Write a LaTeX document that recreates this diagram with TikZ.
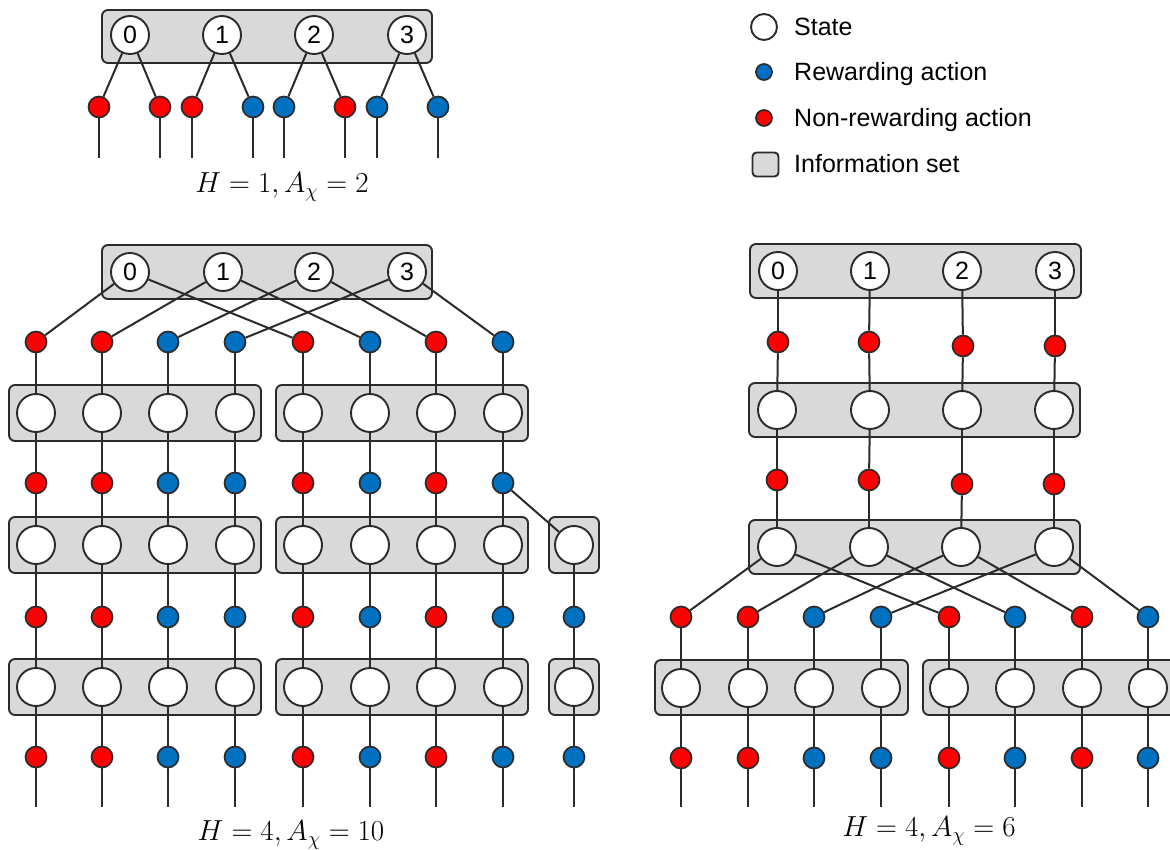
\RequirePackage{fix-cm}
\documentclass[tikz,border=0pt]{standalone}
\usepackage{fontspec}
\newfontfamily\lsans{Liberation Sans}
\definecolor{lc}{HTML}{2B2B2B}
\definecolor{rr}{HTML}{FF0000}
\definecolor{bb}{HTML}{0070C0}
\definecolor{gf}{HTML}{D9D9D9}
\begin{document}
\begin{tikzpicture}[x=1pt,y=-1pt,
  stnode/.style={circle,draw=lc,fill=white,line width=1.9pt,minimum size=38pt,inner sep=0pt,font=\lsans\fontsize{25}{25}\selectfont},
  dotn/.style={circle,draw=lc,line width=1.7pt,minimum size=21pt,inner sep=0pt},
  ibox/.style={draw=lc,fill=gf,line width=1.9pt,rounded corners=6pt,inner sep=0pt},
  conn/.style={draw=lc,line width=2pt},
  lbl/.style={inner sep=0pt,font=\fontsize{29}{32}\selectfont},
  legtxt/.style={anchor=base west,inner sep=0pt,font=\lsans\fontsize{25}{28}\selectfont}]
\useasboundingbox (0,0) rectangle (1170,850);
\clip (0,0) rectangle (1170,850);

% ---------------- top-left: H=1 ----------------
\node[ibox,minimum width=330pt,minimum height=53pt] (Tbox) at (267,36.5) {};
\foreach \n/\x in {0/130,1/222,2/314,3/407} \node[stnode] (T\n) at (\x,35) {\n};
\foreach \n/\x/\c in {1/99/rr,2/160/rr,3/192/rr,4/253/bb,5/284/bb,6/345/rr,7/377/bb,8/438/bb} {
  \node[dotn,fill=\c] (Ta\n) at (\x,107) {};
  \coordinate (Te\n) at (\x,158);
}
\foreach \n/\a/\b in {0/1/2,1/3/4,2/5/6,3/7/8} {
  \draw[conn] (T\n) -- (Ta\a);
  \draw[conn] (T\n) -- (Ta\b);
}
\foreach \n in {1,...,8} \draw[conn] (Ta\n) -- (Te\n);
\node[lbl] (Tlbl) at (282,187) {$H=1, A_\chi=2$};

% ---------------- bottom-left: H=4, A=10 ----------------
\node[ibox,minimum width=330pt,minimum height=54pt] (LboxA) at (267,272) {};
\foreach \y/\r in {413/2,545/3,687/4} {
  \node[ibox,minimum width=252pt,minimum height=56pt] (LboxL\r) at (135,\y) {};
  \node[ibox,minimum width=252pt,minimum height=56pt] (LboxR\r) at (402,\y) {};
}
\foreach \y/\r in {545/3,687/4}
  \node[ibox,minimum width=50pt,minimum height=56pt] (LboxS\r) at (574,\y) {};
\foreach \n/\x in {0/130,1/223,2/314,3/407} \node[stnode] (L\n) at (\x,272) {\n};
\foreach \i/\x/\c in {1/36/rr,2/102/rr,3/168/bb,4/235/bb,5/303/rr,6/370/bb,7/436/rr,8/503/bb} {
  \node[dotn,fill=\c] (L1d\i) at (\x,342) {};
  \node[stnode] (L2s\i) at (\x,413) {};
  \node[dotn,fill=\c] (L2d\i) at (\x,483) {};
  \node[stnode] (L3s\i) at (\x,545) {};
  \node[dotn,fill=\c] (L3d\i) at (\x,617) {};
  \node[stnode] (L4s\i) at (\x,687) {};
  \node[dotn,fill=\c] (L4d\i) at (\x,757) {};
  \coordinate (Le\i) at (\x,807);
}
\node[stnode] (L3s9) at (574,545) {};
\node[dotn,fill=bb] (L3d9) at (574,617) {};
\node[stnode] (L4s9) at (574,687) {};
\node[dotn,fill=bb] (L4d9) at (574,757) {};
\coordinate (Le9) at (574,807);
\foreach \n/\a/\b in {0/1/5,1/2/6,2/3/7,3/4/8} {
  \draw[conn] (L\n) -- (L1d\a);
  \draw[conn] (L\n) -- (L1d\b);
}
\foreach \i in {1,...,8} {
  \draw[conn] (L1d\i) -- (L2s\i);
  \draw[conn] (L2s\i) -- (L2d\i);
  \draw[conn] (L2d\i) -- (L3s\i);
}
\draw[conn] (L2d8) -- (L3s9);
\foreach \i in {1,...,9} {
  \draw[conn] (L3s\i) -- (L3d\i);
  \draw[conn] (L3d\i) -- (L4s\i);
  \draw[conn] (L4s\i) -- (L4d\i);
  \draw[conn] (L4d\i) -- (Le\i);
}
\node[lbl] (Llbl) at (291,835) {$H=4, A_\chi=10$};

% ---------------- right: H=4, A=6 ----------------
\node[ibox,minimum width=331pt,minimum height=54pt] (RboxA) at (915.5,271) {};
\node[ibox,minimum width=331pt,minimum height=54pt] (RboxB) at (914.5,410) {};
\node[ibox,minimum width=331pt,minimum height=54pt] (RboxC) at (914.5,547) {};
\node[ibox,minimum width=253pt,minimum height=55pt] (RboxL) at (781.5,687.5) {};
\node[ibox,minimum width=253pt,minimum height=55pt] (RboxR) at (1049.5,687.5) {};
\foreach \n/\x in {0/778,1/870,2/962,3/1055} \node[stnode] (R\n) at (\x,271) {\n};
\foreach \i/\xa/\ya/\xb/\xc/\yc/\xd in {1/778/342/777/777/480/777,2/869/342/870/869/480/869,3/963/346/962/962/484/961,4/1055/346/1054/1054/484/1054} {
  \node[dotn,fill=rr] (R1d\i) at (\xa,\ya) {};
  \node[stnode] (R2s\i) at (\xb,410) {};
  \node[dotn,fill=rr] (R2d\i) at (\xc,\yc) {};
  \node[stnode] (R3s\i) at (\xd,547) {};
}
\foreach \i/\x/\c in {1/681/rr,2/748/rr,3/814/bb,4/881/bb,5/949/rr,6/1015/bb,7/1082/rr,8/1148/bb} {
  \node[dotn,fill=\c] (R3d\i) at (\x,617) {};
  \node[stnode] (R4s\i) at (\x,688) {};
  \node[dotn,fill=\c] (R4d\i) at (\x,758) {};
  \coordinate (Re\i) at (\x,807);
}
\foreach \n/\i in {0/1,1/2,2/3,3/4} {
  \draw[conn] (R\n) -- (R1d\i);
  \draw[conn] (R1d\i) -- (R2s\i);
  \draw[conn] (R2s\i) -- (R2d\i);
  \draw[conn] (R2d\i) -- (R3s\i);
}
\foreach \i/\a/\b in {1/1/5,2/2/6,3/3/7,4/4/8} {
  \draw[conn] (R3s\i) -- (R3d\a);
  \draw[conn] (R3s\i) -- (R3d\b);
}
\foreach \i in {1,...,8} {
  \draw[conn] (R3d\i) -- (R4s\i);
  \draw[conn] (R4s\i) -- (R4d\i);
  \draw[conn] (R4d\i) -- (Re\i);
}
\node[lbl] (Rlbl) at (929,831) {$H=4, A_\chi=6$};

% ---------------- legend ----------------
\node[circle,draw=lc,fill=white,line width=1.9pt,minimum size=26pt,inner sep=0pt] (kS) at (764,27) {};
\node[dotn,fill=bb,minimum size=16pt] (kB) at (764,72) {};
\node[dotn,fill=rr,minimum size=16pt] (kR) at (764,118) {};
\node[ibox,rounded corners=4pt,minimum width=26pt,minimum height=24pt] (kI) at (765.5,164.5) {};
\node[legtxt] (tS) at (794,36) {State};
\node[legtxt] (tB) at (794,81) {Rewarding action};
\node[legtxt] (tR) at (794,127) {Non-rewarding action};
\node[legtxt] (tI) at (794,173) {Information set};
\end{tikzpicture}
\end{document}
